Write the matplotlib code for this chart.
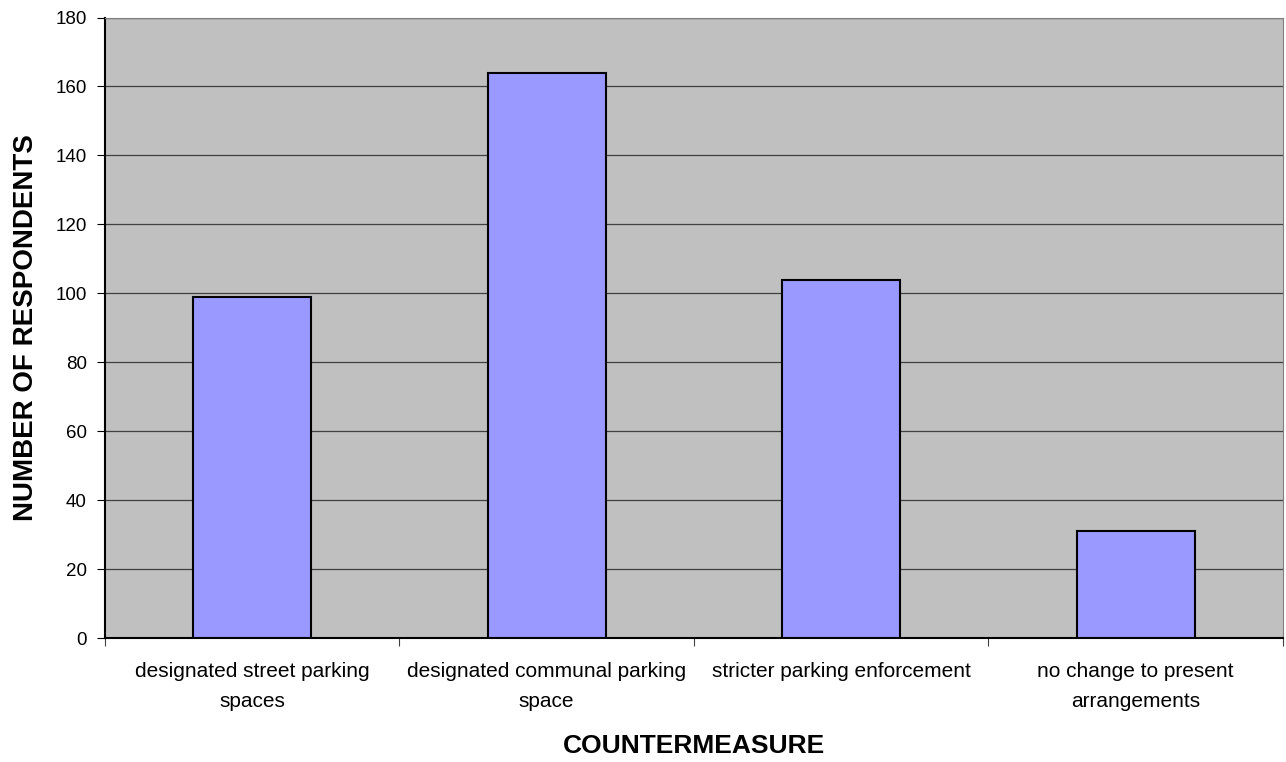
import matplotlib.pyplot as plt
import numpy as np

plt.rcParams['font.family'] = ['Liberation Sans', 'DejaVu Sans']

categories = ['designated street parking\nspaces', 'designated communal parking\nspace',
              'stricter parking enforcement', 'no change to present\narrangements']
respondents = [99, 164, 104, 31]

fig = plt.figure(figsize=(12.86, 7.62), dpi=100)
ax = fig.add_axes([0.0816, 0.1627, 0.916, 0.8143])
ax.set_facecolor('#C0C0C0')

x = np.arange(len(categories))
ax.bar(x, respondents, width=0.4, color='#9999FF', edgecolor='black', linewidth=1.5, zorder=3)

ax.set_xlim(-0.5, len(categories) - 0.5)
ax.set_ylim(0, 180)
ax.set_yticks(range(0, 181, 20))
ax.yaxis.grid(True, color='#404040', linewidth=0.9, zorder=0)

# ticks on category boundaries, labels centred under bars
ax.set_xticks(np.arange(-0.5, len(categories), 1.0))
ax.set_xticklabels([])
ax.set_xticks(x, minor=True)
ax.set_xticklabels(categories, minor=True, fontsize=15, linespacing=1.75)
ax.tick_params(axis='x', which='minor', length=0, pad=17)
ax.tick_params(axis='x', which='major', length=6, color='#404040')
ax.tick_params(axis='y', length=6, labelsize=13.5, color='black', pad=7)

for side in ['top', 'right']:
    ax.spines[side].set_color('#808080')
ax.spines['left'].set_linewidth(1.5)
ax.spines['bottom'].set_linewidth(1.5)

ax.set_xlabel('COUNTERMEASURE', fontsize=19, fontweight='bold', labelpad=17)
ax.set_ylabel('NUMBER OF RESPONDENTS', fontsize=20, fontweight='bold', labelpad=12)

fig.savefig('out.png', dpi=100)
